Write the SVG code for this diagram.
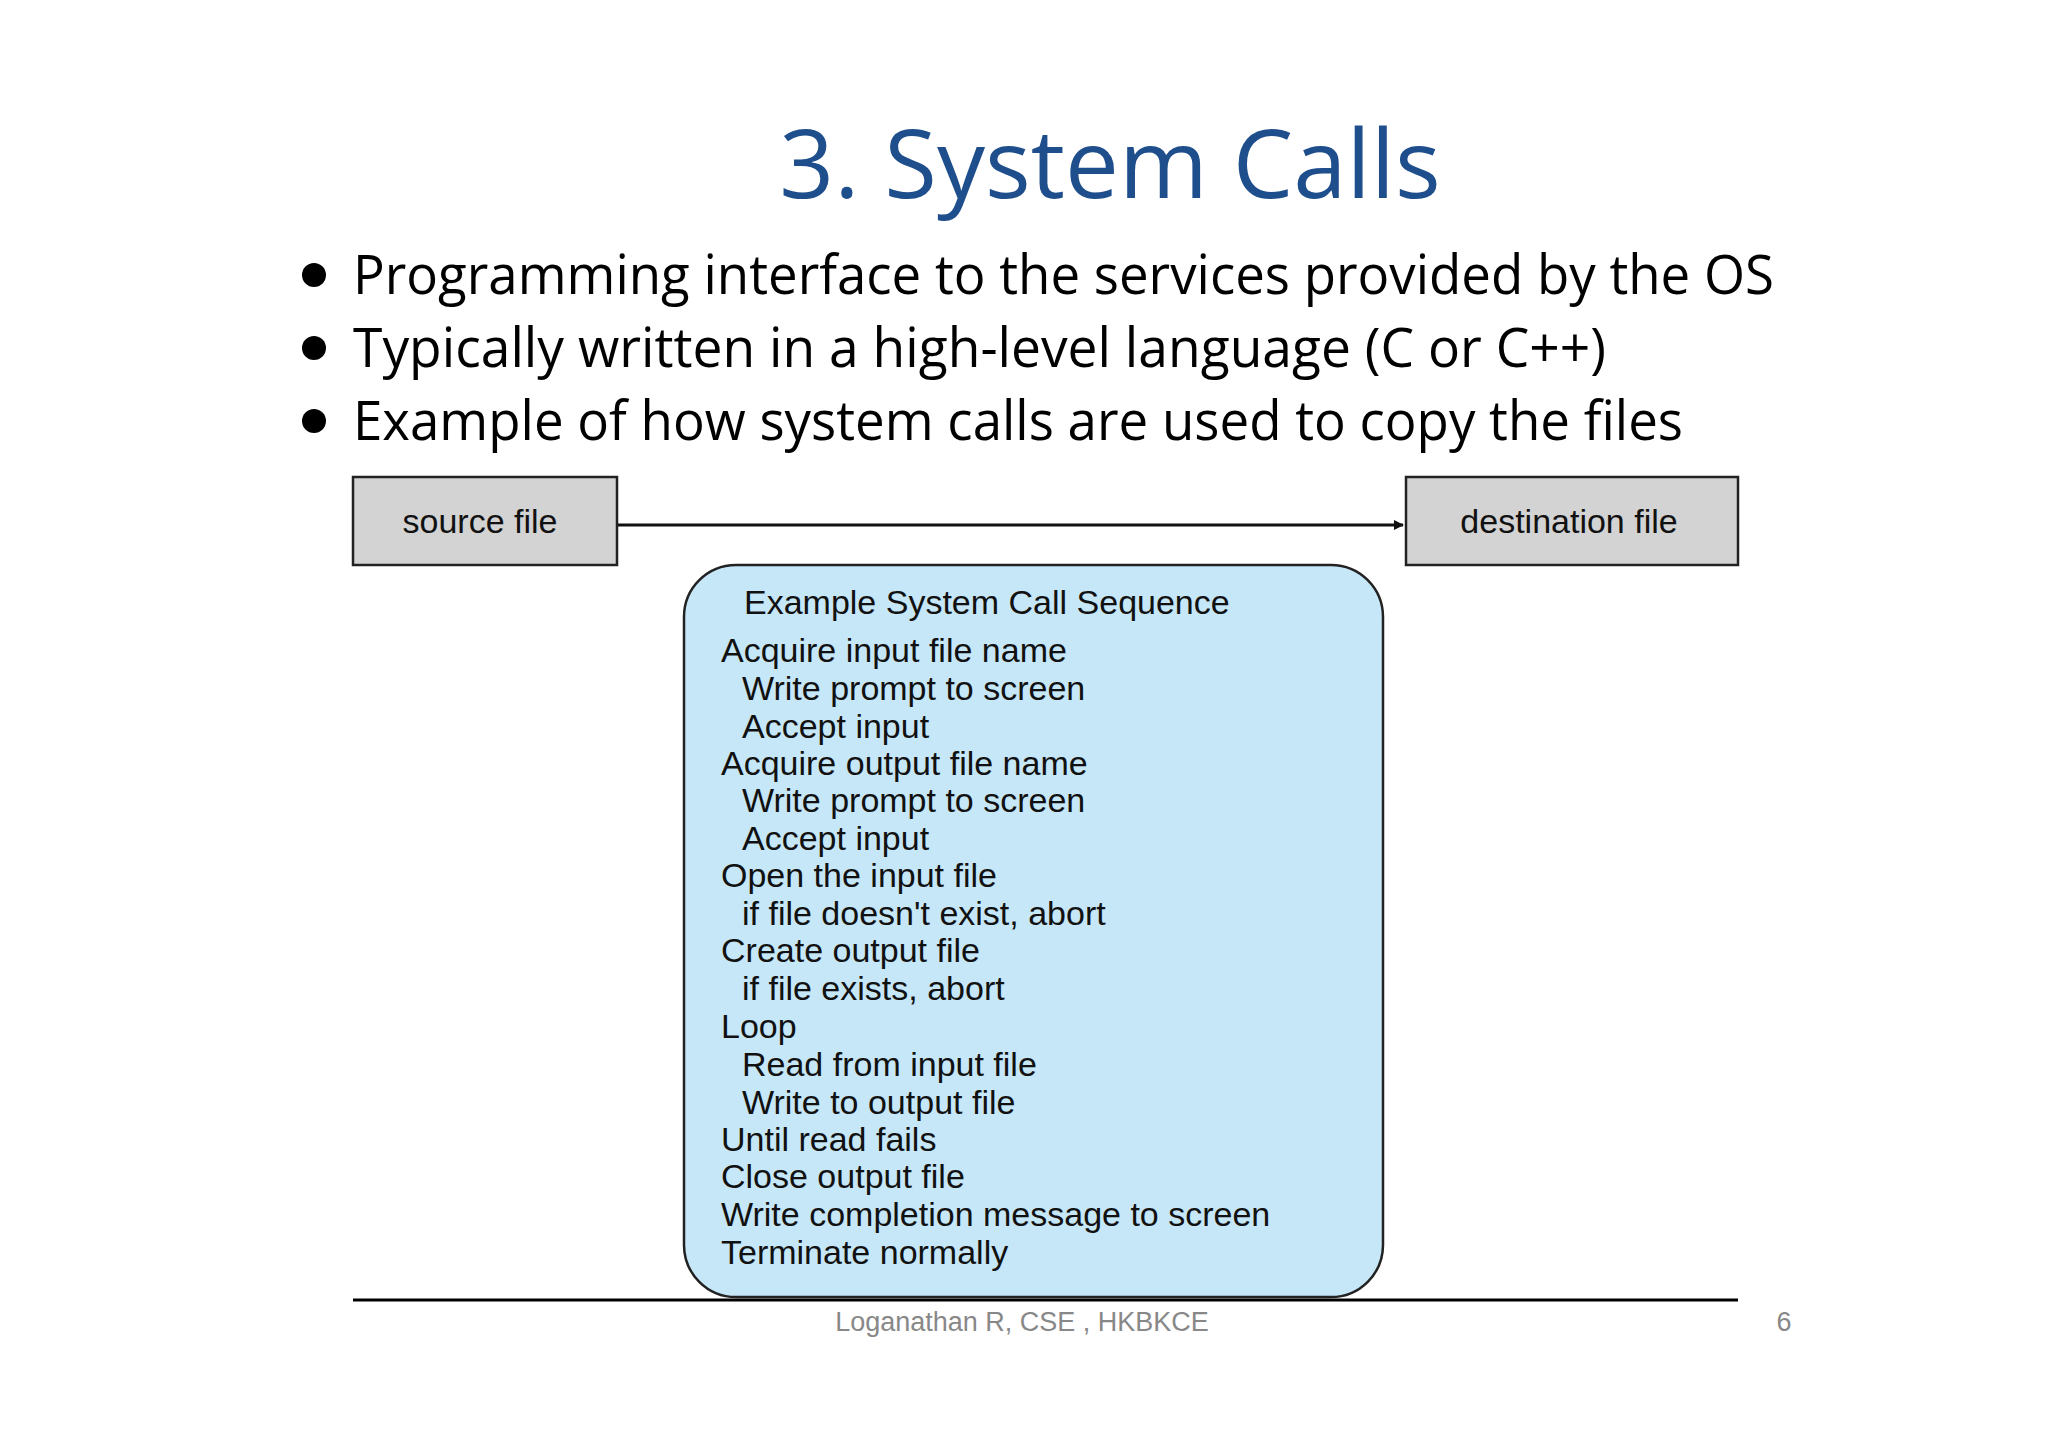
<svg xmlns="http://www.w3.org/2000/svg" width="2048" height="1447" viewBox="0 0 2048 1447">
<style>
.b{font-family:"Open Sans","Noto Sans",sans-serif;font-size:54px;fill:#000}
.h{font-family:"Liberation Sans",Arial,sans-serif;font-size:34px;fill:#111}
.box{fill:#d3d3d3;stroke:#222;stroke-width:2.5}
</style>
<defs><marker id="ah" markerWidth="10" markerHeight="10" refX="9" refY="5" orient="auto" markerUnits="userSpaceOnUse" viewBox="0 0 10 10"><path d="M0,0 L10,5 L0,10z" fill="#111"/></marker></defs>
<rect width="2048" height="1447" fill="#fff"/>
<text x="1110" y="198" text-anchor="middle" font-family="'Open Sans','Noto Sans',sans-serif" font-size="96" fill="#1f4e8c">3. System Calls</text>
<g id="bullets">
<circle cx="314" cy="275" r="12"/><circle cx="314" cy="348" r="12"/><circle cx="314" cy="421" r="12"/>
<text class="b" x="353" y="294" textLength="1421" lengthAdjust="spacingAndGlyphs">Programming interface to the services provided by the OS</text>
<text class="b" x="353" y="367" textLength="1253" lengthAdjust="spacingAndGlyphs">Typically written in a high-level language (C or C++)</text>
<text class="b" x="353" y="440" textLength="1330" lengthAdjust="spacingAndGlyphs">Example of how system calls are used to copy the files</text>
</g>
<g id="connectors"><line x1="617" y1="525" x2="1403" y2="525" stroke="#111" stroke-width="3" marker-end="url(#ah)"/></g>
<g id="source"><rect class="box" x="353" y="477" width="264" height="88"/><text class="h" x="480" y="533" text-anchor="middle">source file</text></g>
<g id="dest"><rect class="box" x="1406" y="477" width="332" height="88"/><text class="h" x="1569" y="533" text-anchor="middle">destination  file</text></g>
<g id="sequence">
<rect x="684" y="565" width="699" height="732" rx="52" fill="#c6e7f8" stroke="#222" stroke-width="2.5"/>
<text class="h" x="744" y="614">Example System Call Sequence</text>
<text class="h" x="721" y="662">Acquire input file name</text>
<text class="h" x="742" y="700">Write prompt to screen</text>
<text class="h" x="742" y="738">Accept input</text>
<text class="h" x="721" y="775">Acquire output file name</text>
<text class="h" x="742" y="812">Write prompt to screen</text>
<text class="h" x="742" y="850">Accept input</text>
<text class="h" x="721" y="887">Open the input file</text>
<text class="h" x="742" y="925">if file doesn't exist, abort</text>
<text class="h" x="721" y="962">Create output file</text>
<text class="h" x="742" y="1000">if file exists, abort</text>
<text class="h" x="721" y="1038">Loop</text>
<text class="h" x="742" y="1076">Read from input file</text>
<text class="h" x="742" y="1114">Write to output file</text>
<text class="h" x="721" y="1151">Until read fails</text>
<text class="h" x="721" y="1188">Close output file</text>
<text class="h" x="721" y="1226">Write completion message to screen</text>
<text class="h" x="721" y="1264">Terminate normally</text>
</g>
<line x1="353" y1="1300" x2="1738" y2="1300" stroke="#000" stroke-width="3"/>
<text x="1022" y="1331" text-anchor="middle" font-family="'Liberation Sans',Arial,sans-serif" font-size="27" fill="#888">Loganathan R, CSE , HKBKCE</text>
<text x="1784" y="1331" text-anchor="middle" font-family="'Liberation Sans',Arial,sans-serif" font-size="27" fill="#888">6</text>
</svg>
